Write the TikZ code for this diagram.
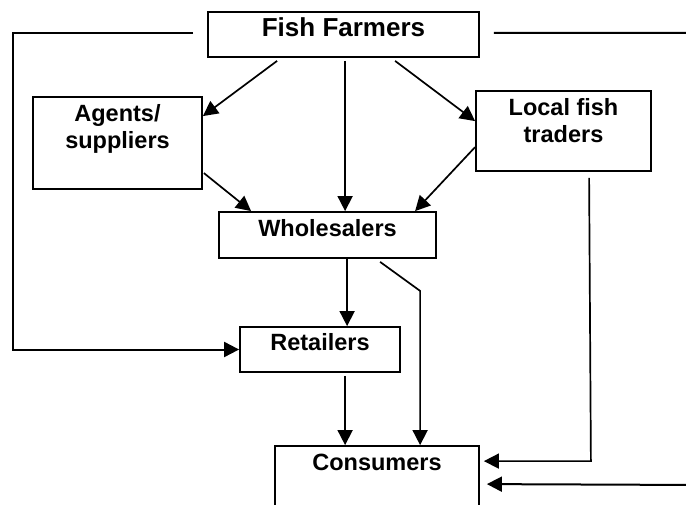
\documentclass[tikz,border=0pt]{standalone}
\usepackage{fontspec}
\setmainfont{Liberation Sans}
\usetikzlibrary{arrows.meta,calc}
\begin{document}
\begin{tikzpicture}[x=1bp,y=-1bp,
  box/.style={draw,line width=1.8bp,rectangle,inner sep=0pt},
  lbl/.style={anchor=base,align=center,inner sep=0pt,font=\bfseries\fontsize{23.5bp}{27bp}\selectfont},
  biglbl/.style={lbl,font=\bfseries\fontsize{26bp}{28bp}\selectfont},
  tip/.style={-{Triangle[length=15bp,width=15bp]}},
  conn/.style={line width=1.7bp,tip},
  frame/.style={line width=2bp}]
\clip (0,0) rectangle (686,505);
\fill[white] (0,0) rectangle (686,505);
% boxes
\node[box,minimum width=271bp,minimum height=45bp] (ff) at (343.5,34.5) {};
\node[box,minimum width=169bp,minimum height=92bp] (ag) at (117.5,143) {};
\node[box,minimum width=217bp,minimum height=46bp] (ws) at (327.5,235) {};
\node[box,minimum width=175bp,minimum height=80bp] (lt) at (563.5,131) {};
\node[box,minimum width=160bp,minimum height=45bp] (rt) at (320,349.5) {};
\node[box,minimum width=204bp,minimum height=90bp] (cs) at (377,491) {};
% labels
\node[biglbl] (ffT) at (343.5,37) {Fish Farmers};
\node[lbl] (agT) at (117.5,149) {Agents/\\suppliers};
\node[lbl] (wsT) at (327.5,237) {Wholesalers};
\node[lbl] (ltT) at (563.5,143) {Local fish\\traders};
\node[lbl] (rtT) at (320,350) {Retailers};
\node[lbl] (csT) at (377,470) {Consumers};
% connectors
\coordinate (f1) at ($(ff.south west)+(70,3)$);
\coordinate (f2) at ($(ff.south west)+(138,3)$);
\coordinate (f3) at ($(ff.south west)+(188,3)$);
\draw[conn] (f1) -- ($(ag.north east)+(0,20)$);
\draw[conn] (f2) -- (f2 |- ws.north);
\draw[conn] (f3) -- ($(lt.north west)+(0,31)$);
\draw[conn] ($(ag.north east)+(1,77)$) -- ($(ws.north west)+(33,0)$);
\draw[conn] ($(lt.north west)+(0,57)$) -- ($(ws.north west)+(197,0)$);
\coordinate (w1) at ($(ws.south west)+(129,0)$);
\draw[conn] (w1) -- (w1 |- rt.north);
\coordinate (w2) at ($(ws.south west)+(162,3)$);
\coordinate (w3) at ($(w2)+(40,29)$);
\draw[conn] (w2) -- (w3) -- (w3 |- cs.north);
\coordinate (r1) at ($(rt.south west)+(106,3)$);
\draw[conn] (r1) -- (r1 |- cs.north);
\coordinate (l1) at ($(lt.south west)+(114,6)$);
\coordinate (l2) at ($(cs.north east)+(111,16)$);
\draw[conn] (l1) -- (l2) -- ($(cs.north east)+(4,16)$);
% frame lines
\coordinate (lc1) at (13,33);
\coordinate (lc2) at (13,349.5);
\draw[frame,tip] ($(ff.west)+(-14,-1.5)$) -- (lc1) -- (lc2) -- (rt.west);
\coordinate (rc1) at (700,33);
\coordinate (rc2) at (700,485);
\draw[frame,tip] ($(ff.east)+(14,-1.5)$) -- (rc1) -- (rc2) -- ($(cs.north east)+(7,39)$);
\end{tikzpicture}
\end{document}
